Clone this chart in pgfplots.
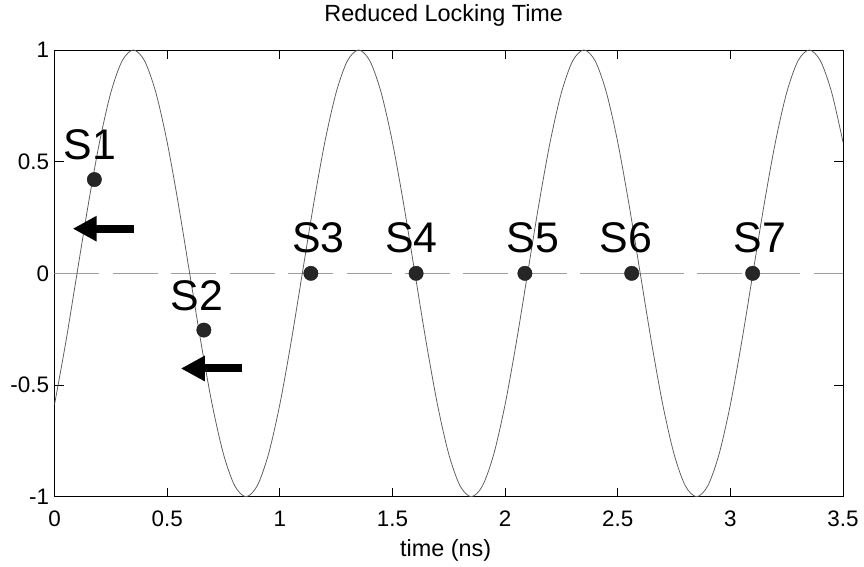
\documentclass[border=0pt]{standalone}
\usepackage{pgfplots}
\pgfplotsset{compat=1.18}
\usepackage{fontspec}
\setmainfont{Liberation Sans}
\usetikzlibrary{arrows.meta}

\begin{document}
\begin{tikzpicture}
\begin{axis}[
  scale only axis,
  width=788.5bp, height=446.7bp,
  xmin=0, xmax=3.5, ymin=-1, ymax=1,
  xtick={0,0.5,1,1.5,2,2.5,3,3.5},
  ytick={-1,-0.5,0,0.5,1},
  tick align=inside, major tick length=9bp,
  tick style={black, line width=0.6pt},
  axis line style={black, line width=0.6pt},
  /pgf/number format/assume math mode=true,
  /pgf/number format/fixed,
  ticklabel style={font=\fontsize{22.5}{26}\selectfont},
  xticklabel style={anchor=base, yshift=-29.3bp},
  yticklabel style={xshift=-2bp},
  title={Reduced Locking Time},
  title style={font=\fontsize{23.5}{28}\selectfont, at={(axis description cs:0.5,1)}, anchor=base, yshift=22.3bp, xshift=-5bp},
  xlabel={time (ns)},
  xlabel style={font=\fontsize{23.5}{28}\selectfont, at={(axis description cs:0.5,0)}, anchor=base, yshift=-60bp, xshift=-3bp},
]
% zero reference level
\addplot[gray!75, line width=0.5pt, dash pattern=on 45bp off 13.4bp] coordinates {(0,0) (3.5,0)};

% oscillator output, period 1 ns
\addplot[black!65, line width=0.75pt, smooth] coordinates {
(0.00,-0.5878) (0.05,-0.3090) (0.10,0) (0.15,0.3090) (0.20,0.5878)
(0.25,0.8090) (0.30,0.9511) (0.35,1) (0.40,0.9511) (0.45,0.8090)
(0.50,0.5878) (0.55,0.3090) (0.60,0) (0.65,-0.3090) (0.70,-0.5878)
(0.75,-0.8090) (0.80,-0.9511) (0.85,-1) (0.90,-0.9511) (0.95,-0.8090)
(1.00,-0.5878) (1.05,-0.3090) (1.10,0) (1.15,0.3090) (1.20,0.5878)
(1.25,0.8090) (1.30,0.9511) (1.35,1) (1.40,0.9511) (1.45,0.8090)
(1.50,0.5878) (1.55,0.3090) (1.60,0) (1.65,-0.3090) (1.70,-0.5878)
(1.75,-0.8090) (1.80,-0.9511) (1.85,-1) (1.90,-0.9511) (1.95,-0.8090)
(2.00,-0.5878) (2.05,-0.3090) (2.10,0) (2.15,0.3090) (2.20,0.5878)
(2.25,0.8090) (2.30,0.9511) (2.35,1) (2.40,0.9511) (2.45,0.8090)
(2.50,0.5878) (2.55,0.3090) (2.60,0) (2.65,-0.3090) (2.70,-0.5878)
(2.75,-0.8090) (2.80,-0.9511) (2.85,-1) (2.90,-0.9511) (2.95,-0.8090)
(3.00,-0.5878) (3.05,-0.3090) (3.10,0) (3.15,0.3090) (3.20,0.5878)
(3.25,0.8090) (3.30,0.9511) (3.35,1) (3.40,0.9511) (3.45,0.8090)
(3.50,0.5878)
};

% sampling instants
\addplot[only marks, mark=*, mark size=7.2bp, draw=black!90, fill=black!85] coordinates {
(0.177,0.42) (0.663,-0.254) (1.138,0) (1.605,0) (2.088,0) (2.562,0) (3.099,0)
};

% phase correction arrows
\draw[black, line width=8bp, -{Triangle[length=24bp, width=24bp]}] (axis cs:0.353,0.2) -- (axis cs:0.081,0.2);
\draw[black, line width=8bp, -{Triangle[length=24bp, width=24bp]}] (axis cs:0.834,-0.426) -- (axis cs:0.561,-0.426);

% sample labels
\begin{scope}[every node/.style={anchor=base west, inner sep=0pt, font=\fontsize{43}{50}\selectfont}]
\node at (axis cs:0.039,0.509) {S1};
\node at (axis cs:0.516,-0.167) {S2};
\node at (axis cs:1.055,0.094) {S3};
\node at (axis cs:1.467,0.094) {S4};
\node at (axis cs:2.007,0.094) {S5};
\node at (axis cs:2.418,0.094) {S6};
\node at (axis cs:3.013,0.094) {S7};
\end{scope}
\end{axis}
\pgfresetboundingbox
\path[use as bounding box] ([xshift=-54.5bp, yshift=-70.3bp]current axis.south west) rectangle ([xshift=21bp, yshift=50bp]current axis.north east);
\end{tikzpicture}
\end{document}
